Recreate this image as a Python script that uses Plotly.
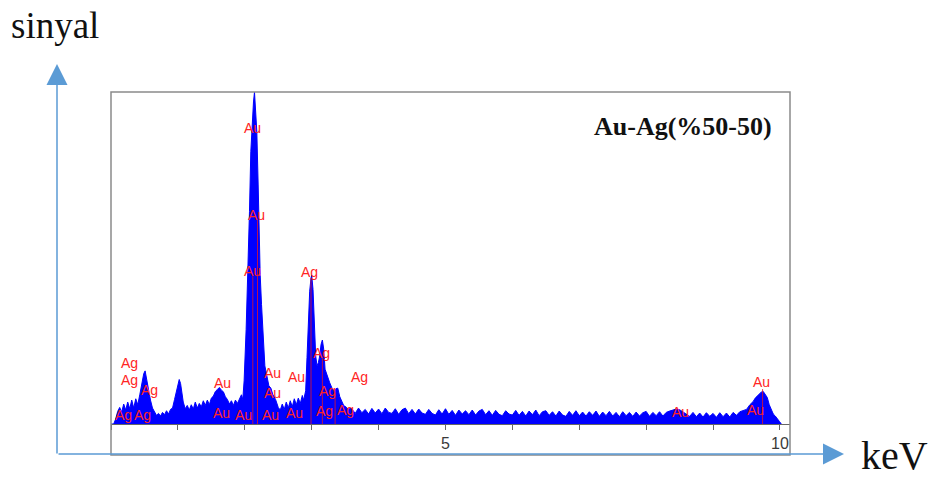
import plotly.graph_objects as go

# ---------------- data (EDS spectrum, counts in arbitrary units) ----------------
low_energy = [0.00, 0.04, 0.07, 0.10, 0.13, 0.16, 0.19, 0.22, 0.25, 0.28, 0.31, 0.34,
              0.37, 0.40, 0.43, 0.45, 0.47, 0.49, 0.51, 0.53, 0.55, 0.57, 0.59, 0.62,
              0.65, 0.68, 0.71, 0.74, 0.77, 0.80, 0.83, 0.86, 0.89, 0.92, 0.95, 0.98,
              1.00, 1.02, 1.04, 1.06, 1.08, 1.11, 1.14, 1.17, 1.20, 1.23, 1.26, 1.29,
              1.32, 1.35, 1.38, 1.41, 1.44, 1.47, 1.50, 1.53, 1.56, 1.59, 1.62, 1.65,
              1.68, 1.71, 1.74, 1.77, 1.80, 1.83, 1.86, 1.89, 1.92]
low_counts = [0, 0, 15, 38, 50, 36, 60, 42, 66, 46, 72, 48,
              76, 58, 88, 112, 140, 152, 160, 138, 120, 90, 72, 48,
              38, 26, 32, 24, 35, 28, 40, 30, 44, 48, 74, 102,
              124, 134, 122, 96, 66, 46, 56, 42, 58, 45, 66, 48,
              62, 52, 70, 56, 72, 58, 78, 84, 98, 104, 110, 102,
              97, 82, 74, 60, 70, 56, 72, 62, 78]

au_m_energy = [1.95, 1.97, 1.99, 2.02, 2.05, 2.07, 2.09, 2.11, 2.13, 2.145, 2.16, 2.17,
               2.18, 2.20, 2.21, 2.23, 2.25, 2.27, 2.30, 2.33, 2.36, 2.39, 2.42, 2.46,
               2.50, 2.53, 2.56, 2.59, 2.62, 2.65, 2.68, 2.71, 2.74, 2.77, 2.80, 2.83, 2.86]
au_m_counts = [88, 74, 130, 285, 460, 640, 820, 920, 970, 1000, 960, 920,
               880, 720, 580, 450, 360, 280, 175, 145, 115, 108, 88, 74,
               50, 42, 60, 44, 66, 48, 70, 52, 76, 58, 78, 62, 86]

ag_l_energy = [2.88, 2.91, 2.93, 2.95, 2.97, 2.99, 3.00, 3.02, 3.04, 3.06, 3.08, 3.10,
               3.12, 3.14, 3.16, 3.18, 3.20, 3.22, 3.24, 3.27, 3.30, 3.33, 3.36, 3.39,
               3.42, 3.45, 3.48, 3.51, 3.54, 3.57]
ag_l_counts = [72, 100, 200, 320, 400, 440, 448, 405, 300, 205, 175, 185,
               205, 240, 253, 225, 165, 152, 138, 124, 110, 98, 106, 108,
               82, 68, 55, 52, 44, 48]

bg_start_kev = 3.60
bg_step_kev = 0.05
bg_counts = [46, 32, 48, 34, 44, 30, 47, 33, 45, 31, 48, 35,
             32, 46, 29, 43, 48, 31, 44, 30, 45, 33, 29, 44,
             32, 27, 43, 30, 46, 29, 41, 26, 42, 30, 40, 28,
             42, 27, 39, 44, 28, 40, 26, 41, 29, 25, 40, 30,
             27, 41, 26, 38, 24, 39, 28, 42, 25, 37, 40, 26,
             37, 24, 39, 27, 23, 38, 26, 40, 25, 36, 24, 37,
             26, 39, 23, 36, 25, 38, 24, 35, 22, 37, 25, 35,
             23, 36, 24, 34, 38, 23, 35, 25, 37, 24, 35, 39,
             42, 45, 43, 36, 28, 23, 35, 22, 33, 21, 34, 23,
             32, 20, 34, 22, 33, 21, 35, 26, 37]

au_l_energy = [9.45, 9.50, 9.55, 9.60, 9.63, 9.66, 9.69, 9.72, 9.75, 9.78, 9.81, 9.84,
               9.87, 9.90, 9.93, 9.96, 9.99, 10.02]
au_l_counts = [40, 44, 58, 68, 78, 84, 93, 96, 98, 90, 80, 58,
               46, 30, 24, 14, 8, 0]

# peak identification labels (element, line energy keV, label height)
label_text = ["Au", "Au", "Au", "Ag", "Ag", "Ag", "Ag", "Ag", "Ag",
              "Au", "Au", "Au", "Au", "Au", "Au", "Au", "Au",
              "Ag", "Ag", "Ag", "Ag", "Ag", "Au", "Au", "Au"]
label_kev = [2.12, 2.18, 2.11, 2.97, 0.28, 0.28, 0.58, 0.18, 0.47,
             1.66, 1.65, 1.98, 2.41, 2.41, 2.39, 2.78, 2.74,
             3.15, 3.23, 3.19, 3.50, 3.72, 8.51, 9.73, 9.64]
label_counts = [892, 630, 461, 458, 184, 133, 102, 27, 27,
                123, 33, 27, 154, 93, 27, 142, 33,
                214, 99, 39, 42, 142, 36, 127, 42]

# KLM marker lines (energy keV, top of marker)
marker_kev = [2.12, 2.19, 2.99, 3.16, 3.35, 9.74]
marker_top = [445, 615, 440, 200, 95, 105]

tick_values = [0, 1, 2, 3, 4, 5, 6, 7, 8, 9, 10]
tick_labels = ["", "", "", "", "", "5", "", "", "", "", "10"]

# ---------------- assemble spectrum ----------------
bg_energy = [round(bg_start_kev + bg_step_kev * i, 2) for i in range(len(bg_counts))]
energy = low_energy + au_m_energy + ag_l_energy + bg_energy + au_l_energy
counts = low_counts + au_m_counts + ag_l_counts + bg_counts + au_l_counts

W, H = 934, 479
L, R, T, B = 111, 144, 92, 55
pw, ph = W - L - R, H - T - B


def px(xp):
    return (xp - L) / pw


def py(yp):
    return (H - B - yp) / ph


fig = go.Figure()
fig.add_trace(go.Scatter(
    x=energy, y=counts, mode="lines",
    line=dict(color="#0000ff", width=1),
    fill="tozeroy", fillcolor="#0000ff", hoverinfo="skip"))

mx, my = [], []
for e, t in zip(marker_kev, marker_top):
    mx += [e, e, None]
    my += [t, 0, None]
fig.add_trace(go.Scatter(x=mx, y=my, mode="lines",
                         line=dict(color="rgba(215,20,50,0.85)", width=1),
                         hoverinfo="skip"))

for t, e, c in zip(label_text, label_kev, label_counts):
    fig.add_annotation(x=e, y=c, text=t, showarrow=False,
                       font=dict(family="Liberation Sans, Arial", size=14, color="#ff2424"),
                       xanchor="center", yanchor="middle")

# sample name
fig.add_annotation(x=px(774), y=py(126), xref="paper", yref="paper",
                   text="<b>Au-Ag(%50-50)</b>", showarrow=False,
                   font=dict(family="Liberation Serif, Times New Roman", size=26, color="#111"),
                   xanchor="right", yanchor="middle")

# outer axis arrows and labels
fig.add_annotation(x=px(57), y=py(64), xref="paper", yref="paper",
                   ax=0, ay=391, axref="pixel", ayref="pixel", text="",
                   showarrow=True, arrowhead=2, arrowsize=2.8, arrowwidth=1.5,
                   arrowcolor="#5b9bd5", standoff=0)
fig.add_annotation(x=px(844), y=py(454), xref="paper", yref="paper",
                   ax=-787, ay=0, axref="pixel", ayref="pixel", text="",
                   showarrow=True, arrowhead=2, arrowsize=2.8, arrowwidth=1.5,
                   arrowcolor="#5b9bd5", standoff=0)
fig.add_annotation(x=px(55), y=py(26), xref="paper", yref="paper",
                   text="sinyal", showarrow=False,
                   font=dict(family="Liberation Serif, Times New Roman", size=37, color="#111"),
                   xanchor="center", yanchor="middle")
fig.add_annotation(x=px(895), y=py(455), xref="paper", yref="paper",
                   text="keV", showarrow=False,
                   font=dict(family="Liberation Serif, Times New Roman", size=40, color="#111"),
                   xanchor="center", yanchor="middle")

# chart frame
fig.add_shape(type="rect", xref="paper", yref="paper",
              x0=0, x1=px(790), y0=py(455), y1=1,
              line=dict(color="#8a8a8a", width=1.5), layer="above")

fig.update_layout(
    width=W, height=H,
    margin=dict(l=L, r=R, t=T, b=B, pad=0),
    paper_bgcolor="white", plot_bgcolor="white",
    showlegend=False,
    xaxis=dict(range=[0, 10.15], showgrid=False, zeroline=False,
               showline=True, linecolor="#666", linewidth=1,
               ticks="outside", ticklen=5, tickcolor="#666",
               tickvals=tick_values, ticktext=tick_labels,
               tickfont=dict(family="Liberation Sans, Arial", size=16, color="#3a3a3a")),
    yaxis=dict(range=[0, 1000], visible=False),
)

fig.write_html("out.html")
